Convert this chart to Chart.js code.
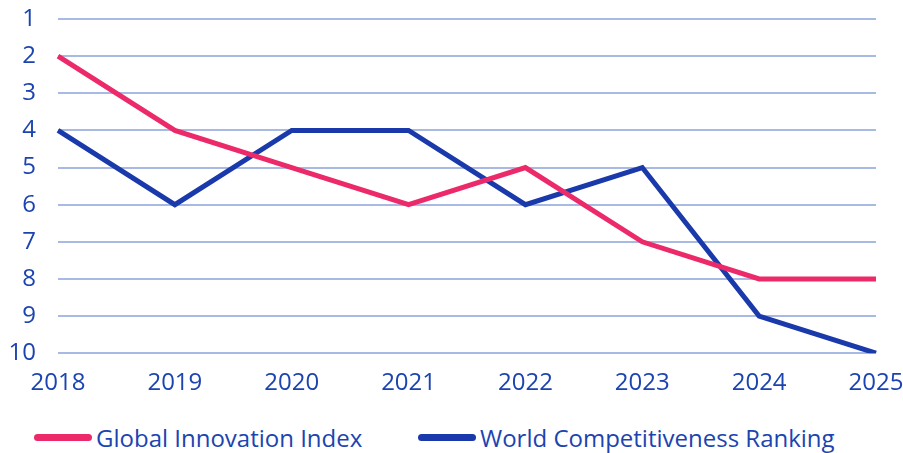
<!DOCTYPE html>
<html>
<head>
<meta charset="utf-8">
<script src="https://cdn.jsdelivr.net/npm/chart.js@4"></script>
<style>
  html, body { margin: 0; padding: 0; background: #fff; }
  #wrap { position: relative; width: 903px; height: 453px; }
  #chartBox { position: absolute; left: 0; top: 0; width: 903px; height: 406px; }
  #legend { position: absolute; left: 34px; top: 421px; display: flex; font-family: 'Open Sans', sans-serif; font-size: 24px; color: #1c44b0; }
  #legend .item { display: flex; align-items: center; }
  #legend .swatch { width: 58px; height: 7px; border-radius: 4px; margin-right: 4px; }
</style>
</head>
<body>
<div id="wrap">
  <div id="chartBox"><canvas id="rankChart"></canvas></div>
  <div id="legend"></div>
</div>
<script>
const years = ['2018', '2019', '2020', '2021', '2022', '2023', '2024', '2025'];
const innovationIndex = [2, 4, 5, 6, 5, 7, 8, 8];
const competitiveness = [4, 6, 4, 4, 6, 5, 9, 10];
const seriesNames = ['Global Innovation Index', 'World Competitiveness Ranking'];
const seriesColors = ['#ec2a6a', '#1a3aab'];

const textBlue = '#1c44b0';
const gridBlue = '#a8b9e4';

const ctx = document.getElementById('rankChart');

const rankChart = new Chart(ctx.getContext('2d'), {
    type: 'line',
    data: {
        labels: years,
        datasets: [
            { label: seriesNames[0], data: innovationIndex, borderColor: seriesColors[0], backgroundColor: seriesColors[0] },
            { label: seriesNames[1], data: competitiveness, borderColor: seriesColors[1], backgroundColor: seriesColors[1] }
        ].map(d => Object.assign(d, { borderWidth: 5, pointRadius: 0, tension: 0, fill: false, borderJoinStyle: 'miter', borderCapStyle: 'butt' }))
    },
    options: {
        responsive: true, maintainAspectRatio: false,
        animation: false,
        layout: { padding: { left: 0, right: 0, top: 0, bottom: 0 } },
        scales: {
            x: {
                offset: false,
                grid: { display: false },
                border: { display: false },
                ticks: { color: textBlue, padding: 8, font: { size: 24, family: 'Open Sans' }, maxRotation: 0 },
                afterFit: s => { s.paddingRight = 27; s.paddingLeft = 0; }
            },
            y: {
                reverse: true,
                min: 1, max: 10,
                grid: { color: gridBlue, lineWidth: 2, drawTicks: false },
                border: { display: false },
                ticks: { stepSize: 1, color: textBlue, padding: 22, font: { size: 24, family: 'Open Sans' } },
                afterFit: s => { s.width = 58; s.paddingTop = 19; s.paddingBottom = 0; }
            }
        },
        plugins: {
            legend: { display: false },
            tooltip: { enabled: false }
        }
    }
});

// html legend built from the datasets
const legendEl = document.getElementById('legend');
rankChart.data.datasets.forEach((ds, i) => {
    const item = document.createElement('div');
    item.className = 'item';
    if (i === 0) item.style.width = '384px';
    item.innerHTML = `<span class="swatch" style="background:${ds.borderColor}"></span><span>${ds.label}</span>`;
    legendEl.appendChild(item);
});
</script>
</body>
</html>
